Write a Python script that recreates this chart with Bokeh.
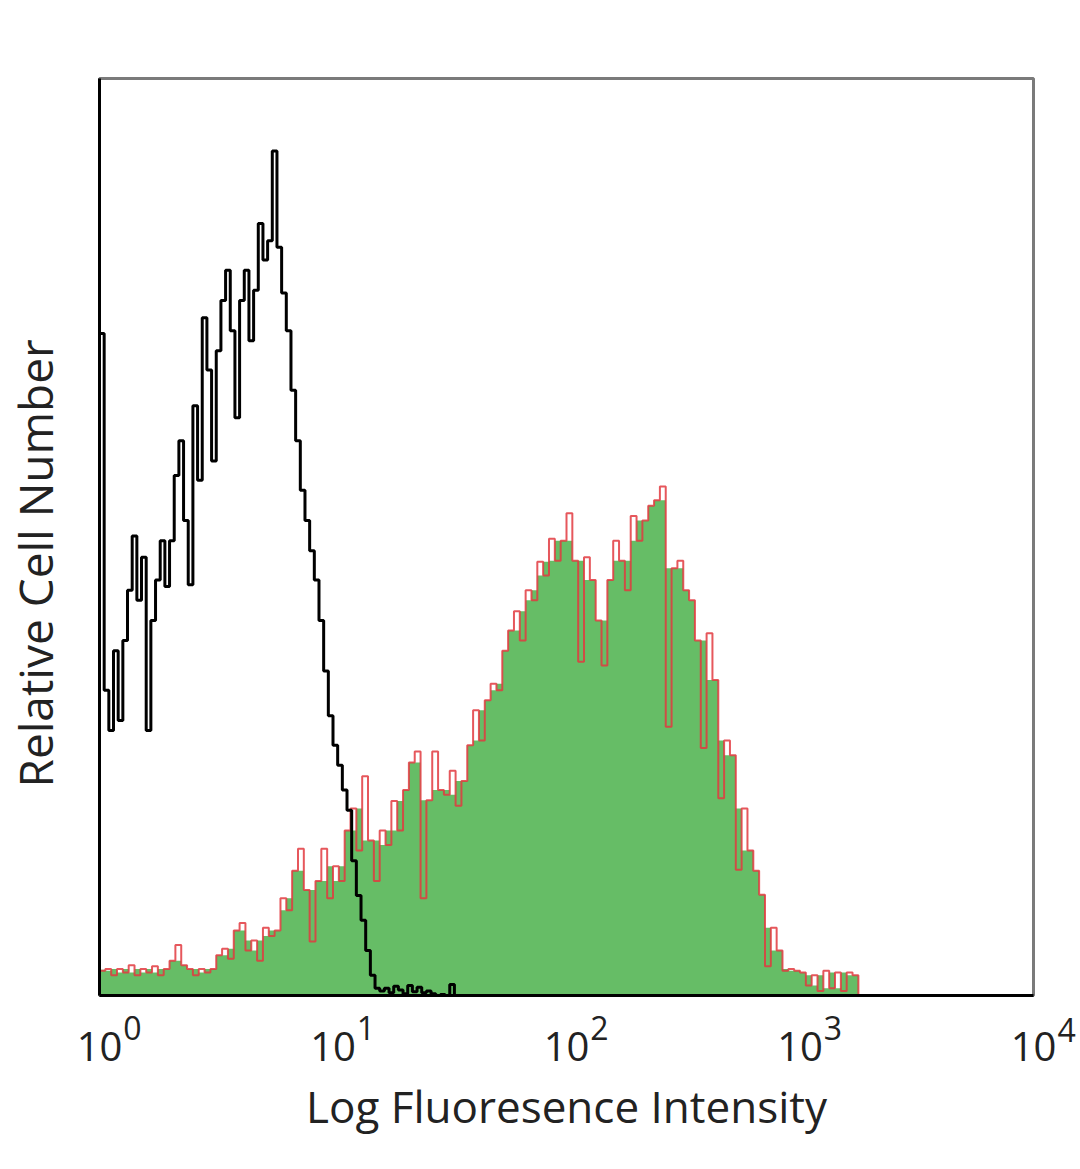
import numpy as np
from bokeh.plotting import figure
from bokeh.models import Range1d, FixedTicker, LogAxis, LinearAxis, LogScale
from bokeh.embed import file_html
from bokeh.resources import INLINE

# ---------------- data ----------------
# isotype control histogram (black), channels of 0.02 decade from 10^0
black_step = 0.02
black_counts = [72.2, 33.3, 28.9, 37.6, 30.0, 38.7, 44.2, 50.1, 43.1, 47.8,
                28.9, 40.9, 45.3, 49.6, 44.6, 49.6, 56.7, 60.5, 51.8, 44.8,
                64.3, 56.2, 73.9, 68.2, 58.3, 70.3, 75.8, 79.1, 72.5, 63.0,
                75.8, 79.1, 71.4, 76.9, 84.2, 80.2, 82.3, 92.1, 81.6, 76.6,
                72.5, 66.0, 60.5, 55.1, 51.8, 48.5, 45.3, 40.9, 35.4, 30.5,
                27.3, 25.1, 22.4, 20.2, 14.7, 10.9, 8.2, 4.9, 2.2, 0.8,
                0.5, 0.8, 0.3, 1.0, 0.6, 0.2, 1.1, 0.4, 0.9, 0.3,
                0.5, 0.2, 0.0, 0.1, 0.0, 1.2, 0.0]

# stained sample histogram (green / red outline), channels of 0.025 decade from 10^0
green_step = 0.025
green_counts = [2.7, 2.9, 2.2, 2.9, 2.5, 3.3, 2.2, 2.9, 2.5, 3.2,
                2.2, 2.9, 3.8, 5.5, 3.3, 2.9, 2.2, 2.9, 2.5, 2.9,
                4.4, 5.1, 4.0, 7.1, 7.9, 4.9, 6.0, 3.8, 7.4, 6.5,
                7.1, 10.6, 9.3, 13.6, 16.0, 11.5, 5.9, 12.5, 16.0, 10.6,
                14.1, 12.5, 18.0, 20.4, 15.8, 23.9, 16.9, 12.5, 18.0, 16.4,
                21.2, 18.0, 22.4, 25.4, 26.6, 10.6, 21.3, 26.6, 22.4, 21.9,
                24.5, 20.7, 23.4, 27.3, 31.1, 27.8, 32.2, 34.0, 33.3, 37.6,
                39.8, 41.9, 38.7, 44.2, 43.1, 47.3, 45.8, 49.8, 47.4, 49.6,
                52.6, 47.4, 36.4, 47.8, 45.3, 40.9, 36.0, 45.3, 49.6, 47.4,
                44.2, 52.3, 49.6, 51.8, 53.4, 54.0, 55.5, 29.3, 46.6, 47.4,
                44.2, 43.1, 38.7, 27.0, 39.5, 34.4, 21.5, 27.8, 26.2, 13.7,
                20.4, 15.8, 13.6, 11.0, 3.2, 7.4, 4.9, 2.7, 2.9, 2.7,
                2.5, 1.1, 2.2, 0.5, 2.7, 0.8, 2.5, 0.5, 2.5, 2.2, 0.0]

tick_values = [1, 10, 100, 1000, 10000]
tick_bases = ["10", "10", "10", "10", "10"]
tick_exponents = ["0", "1", "2", "3", "4"]
x_label = "Log Fluoresence Intensity"
y_label = "Relative Cell Number"

# ---------------- derived ----------------
bx = 10 ** (np.arange(len(black_counts)) * black_step)
gx = 10 ** (np.arange(len(green_counts)) * green_step)
g = np.array(green_counts)
g_fill = np.array([np.median(g[max(i - 1, 0):i + 2]) for i in range(len(g))])

FONT = "Open Sans"
TXT = "#222222"
FW = 934
PX_PER_DECADE = FW / 4
SUP_SHIFT = 33 / PX_PER_DECADE   # superscripts sit to the right of their tick

p = figure(frame_width=FW, frame_height=917,
           min_border_left=90, min_border_right=40,
           min_border_top=78, min_border_bottom=150,
           x_axis_type="log",
           x_range=Range1d(1, 10000), y_range=Range1d(0, 100),
           output_backend="svg", toolbar_location=None,
           background_fill_color="white", border_fill_color="white")

p.xgrid.visible = False
p.ygrid.visible = False
p.outline_line_color = "#7a7a7a"
p.outline_line_width = 3

# green filled histogram with red outline
p.varea_step(x=gx, y1=np.zeros(len(g)), y2=g_fill, step_mode="after",
             fill_color="#66bd66")
p.step(x=gx, y=g, mode="after", line_color="#e23a3f", line_width=2,
       line_alpha=0.85)
# black isotype histogram
p.step(x=bx, y=black_counts, mode="after", line_color="black", line_width=3)


def bare(ax):
    ax.major_tick_out = 0
    ax.major_tick_in = 0
    ax.minor_tick_out = 0
    ax.minor_tick_in = 0


for ax in (p.xaxis[0], p.yaxis[0]):
    ax.ticker = FixedTicker(ticks=[])
    bare(ax)
    ax.major_label_text_font_size = "0px"
    ax.axis_line_color = "black"
    ax.axis_line_width = 3

p.yaxis.axis_label = y_label + "\u2007\u2007"
p.yaxis.axis_label_standoff = 34
p.yaxis.axis_label_text_font = FONT
p.yaxis.axis_label_text_font_style = "normal"
p.yaxis.axis_label_text_font_size = "46px"
p.yaxis.axis_label_text_color = TXT

# superscript exponents 0..3 (row nearest the frame), on a range shifted right
p.extra_x_ranges = {"exp": Range1d(10 ** (0 - SUP_SHIFT), 10 ** (4 - SUP_SHIFT))}
p.extra_x_scales = {"exp": LogScale()}
exp_axis = LogAxis(x_range_name="exp", ticker=FixedTicker(ticks=tick_values),
                   major_label_overrides={t: e for t, e in zip(tick_values, tick_exponents)})
bare(exp_axis)
exp_axis.axis_line_color = None
exp_axis.major_label_standoff = 20
exp_axis.major_label_text_font = FONT
exp_axis.major_label_text_font_size = "32px"
exp_axis.major_label_text_color = TXT
p.add_layout(exp_axis, "below")

# superscript of the last tick, which falls right of the frame
last_axis = LinearAxis(ticker=FixedTicker(ticks=[0]),
                       major_label_overrides={0: "\n\n" + tick_exponents[-1]})
bare(last_axis)
last_axis.axis_line_color = None
last_axis.major_label_standoff = 24
last_axis.major_label_text_align = "left"
last_axis.major_label_text_font = FONT
last_axis.major_label_text_font_size = "32px"
last_axis.major_label_text_line_height = 0.8
last_axis.major_label_text_color = TXT
p.add_layout(last_axis, "right")

# "10" bases, pulled up beside the exponents, plus the axis title
base_axis = LogAxis(ticker=FixedTicker(ticks=tick_values),
                    major_label_overrides={t: b for t, b in zip(tick_values, tick_bases)})
bare(base_axis)
base_axis.axis_line_color = None
base_axis.major_label_standoff = -11
base_axis.major_label_text_font = FONT
base_axis.major_label_text_font_size = "40px"
base_axis.major_label_text_color = TXT
base_axis.axis_label = x_label
base_axis.axis_label_standoff = 12
base_axis.axis_label_text_font = FONT
base_axis.axis_label_text_font_style = "normal"
base_axis.axis_label_text_font_size = "44px"
base_axis.axis_label_text_color = TXT
p.add_layout(base_axis, "below")

open("out.html", "w").write(file_html(p, INLINE))
